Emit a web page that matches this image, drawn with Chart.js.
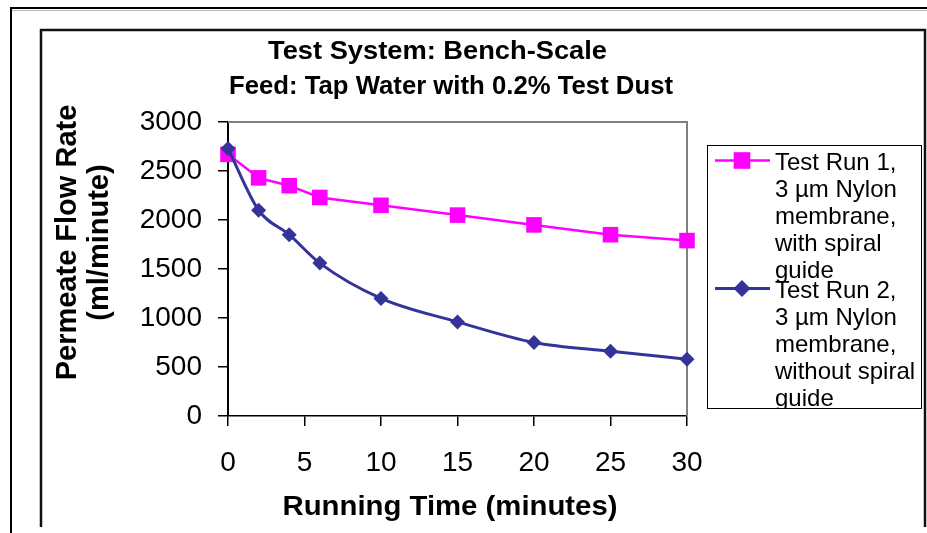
<!DOCTYPE html>
<html>
<head>
<meta charset="utf-8">
<script src="https://cdn.jsdelivr.net/npm/chart.js@4.4.1/dist/chart.umd.min.js"></script>
<style>
html,body{margin:0;padding:0;background:#fff;}
#wrap{width:927px;height:533px;position:relative;}
</style>
</head>
<body>
<div id="wrap"><canvas id="c" width="927" height="533"></canvas></div>
<script>
// ---- data ----
const times = [0, 2, 4, 6, 10, 15, 20, 25, 30];
const run1 = [2670, 2430, 2350, 2230, 2150, 2050, 1950, 1850, 1790];
const run2 = [2730, 2100, 1850, 1560, 1200, 960, 750, 660, 580];
const seriesNames = ["Test Run 1, 3 µm Nylon membrane, with spiral guide",
                     "Test Run 2, 3 µm Nylon membrane, without spiral guide"];
const legendLines = [
  ["Test Run 1,", "3 µm Nylon", "membrane,", "with spiral", "guide"],
  ["Test Run 2,", "3 µm Nylon", "membrane,", "without spiral", "guide"]
];
const titleLines = ["Test System: Bench-Scale", "Feed: Tap Water with 0.2% Test Dust"];
const xTitle = "Running Time (minutes)";
const yTitleLines = ["Permeate Flow Rate", "(ml/minute)"];
const xTicks = [0, 5, 10, 15, 20, 25, 30];
const yTicks = [0, 500, 1000, 1500, 2000, 2500, 3000];

const FONT = "'Liberation Sans', Arial, Helvetica, sans-serif";
const MAGENTA = '#FF00FF';
const NAVY = '#333399';

function pts(xs, ys) { return xs.map((x, i) => ({x: x, y: ys[i]})); }

function drawMarker(ctx, style, x, y, r, color) {
  ctx.save();
  ctx.fillStyle = color;
  ctx.beginPath();
  if (style === 'rect') {
    ctx.rect(x - r, y - r, 2 * r, 2 * r);
  } else {
    ctx.moveTo(x, y - r); ctx.lineTo(x + r, y); ctx.lineTo(x, y + r); ctx.lineTo(x - r, y); ctx.closePath();
  }
  ctx.fill();
  ctx.restore();
}

function fitText(ctx, text, cx, by, targetW) {
  const w = ctx.measureText(text).width;
  const sx = targetW ? targetW / w : 1;
  ctx.save();
  ctx.translate(cx, by);
  ctx.scale(sx, 1);
  ctx.textAlign = 'center';
  ctx.textBaseline = 'alphabetic';
  ctx.fillText(text, 0, 0);
  ctx.restore();
}

const decor = {
  id: 'decor',
  beforeDraw(chart) {
    const ctx = chart.ctx;
    ctx.save();
    ctx.fillStyle = '#fff';
    ctx.fillRect(0, 0, chart.width, chart.height);
    // outer frame
    ctx.strokeStyle = '#000';
    ctx.lineWidth = 2;
    ctx.beginPath();
    ctx.moveTo(11, 533); ctx.lineTo(11, 8); ctx.lineTo(927, 8);
    ctx.stroke();
    ctx.strokeStyle = '#bbb'; ctx.lineWidth = 1;
    ctx.beginPath(); ctx.moveTo(12, 10.5); ctx.lineTo(927, 10.5); ctx.stroke();
    // inner chart box
    ctx.strokeStyle = '#111';
    ctx.lineWidth = 2.5;
    ctx.beginPath();
    ctx.moveTo(41, 527); ctx.lineTo(41, 30); ctx.lineTo(925, 30); ctx.lineTo(925, 527);
    ctx.stroke();
    ctx.restore();
  },
  beforeDatasetsDraw(chart) {
    const {ctx, chartArea: a} = chart;
    ctx.save();
    ctx.strokeStyle = '#808080';
    ctx.lineWidth = 2;
    ctx.beginPath();
    ctx.moveTo(a.left, a.top); ctx.lineTo(a.right, a.top); ctx.lineTo(a.right, a.bottom);
    ctx.stroke();
    ctx.restore();
  },
  afterDraw(chart) {
    const ctx = chart.ctx;
    ctx.save();
    ctx.fillStyle = '#000';
    // main title
    ctx.font = 'bold 26.5px ' + FONT;
    fitText(ctx, titleLines[0], 437.5, 58.5, 339);
    fitText(ctx, titleLines[1], 451, 94, 444);
    // x title
    ctx.font = 'bold 27.5px ' + FONT;
    fitText(ctx, xTitle, 450, 515, 335);
    // y title
    ctx.font = 'bold 29px ' + FONT;
    ctx.save();
    ctx.translate(76, 242.5);
    ctx.rotate(-Math.PI / 2);
    ctx.textAlign = 'center';
    ctx.textBaseline = 'alphabetic';
    ctx.fillText(yTitleLines[0], 0, 0);
    ctx.fillText(yTitleLines[1], 0, 32);
    ctx.restore();

    // legend
    const L = {x: 707, y: 145, w: 214, h: 263};
    ctx.strokeStyle = '#000';
    ctx.lineWidth = 1;
    ctx.strokeRect(L.x + 0.5, L.y + 0.5, L.w, L.h);
    ctx.save();
    ctx.beginPath();
    ctx.rect(L.x + 1, L.y + 1, L.w - 1, L.h - 1);
    ctx.clip();
    const ds = chart.data.datasets;
    const firstBase = [170, 298];
    ds.forEach((d, i) => {
      const my = firstBase[i] - 9.5;
      ctx.strokeStyle = d.borderColor;
      ctx.lineWidth = d.borderWidth;
      ctx.beginPath(); ctx.moveTo(715, my); ctx.lineTo(770, my); ctx.stroke();
      if (d.pointStyle === 'rect') drawMarker(ctx, 'rect', 742, my, 8.3, d.backgroundColor);
      else drawMarker(ctx, 'diamond', 742, my, 8.5, d.backgroundColor);
      ctx.fillStyle = '#000';
      ctx.font = '24px ' + FONT;
      ctx.textAlign = 'left';
      ctx.textBaseline = 'alphabetic';
      legendLines[i].forEach((t, k) => ctx.fillText(t, 775, firstBase[i] + 27 * k));
    });
    ctx.restore();
    ctx.restore();
  }
};

new Chart(document.getElementById('c'), {
  type: 'line',
  data: {
    datasets: [
      {
        label: seriesNames[0],
        data: pts(times, run1),
        borderColor: MAGENTA,
        backgroundColor: MAGENTA,
        borderWidth: 2.5,
        pointStyle: 'rect',
        pointRadius: 11,
        pointBorderWidth: 0,
        pointBackgroundColor: MAGENTA,
        tension: 0,
        clip: false,
        order: 1
      },
      {
        label: seriesNames[1],
        data: pts(times, run2),
        borderColor: NAVY,
        backgroundColor: NAVY,
        borderWidth: 3,
        pointStyle: 'rectRot',
        pointRadius: 7.5,
        pointBorderWidth: 0,
        pointBackgroundColor: NAVY,
        cubicInterpolationMode: 'monotone',
        clip: false,
        order: 0
      }
    ]
  },
  options: {
    responsive: false,
    animation: false,
    devicePixelRatio: 1,
    layout: {padding: {top: 122, right: 240, left: 0, bottom: 0}},
    plugins: {legend: {display: false}, title: {display: false}, tooltip: {enabled: false}},
    scales: {
      x: {
        type: 'linear', min: 0, max: 30,
        afterBuildTicks: s => { s.ticks = xTicks.map(v => ({value: v})); },
        afterFit: s => { s.height = 117; },
        grid: {display: true, drawOnChartArea: false, drawTicks: true, tickLength: 10, color: '#000', lineWidth: 1.5},
        border: {display: true, color: '#000', width: 1.5},
        ticks: {font: {family: FONT, size: 28}, color: '#000', padding: 20, maxRotation: 0, autoSkip: false,
                callback: v => String(v)}
      },
      y: {
        type: 'linear', min: 0, max: 3000,
        afterBuildTicks: s => { s.ticks = yTicks.map(v => ({value: v})); },
        afterFit: s => { s.width = 228; },
        grid: {display: true, drawOnChartArea: false, drawTicks: true, tickLength: 10, color: '#000', lineWidth: 1.5},
        border: {display: true, color: '#000', width: 2},
        ticks: {font: {family: FONT, size: 28}, color: '#000', padding: 16, autoSkip: false,
                callback: v => String(v)}
      }
    }
  },
  plugins: [decor]
});
</script>
</body>
</html>
